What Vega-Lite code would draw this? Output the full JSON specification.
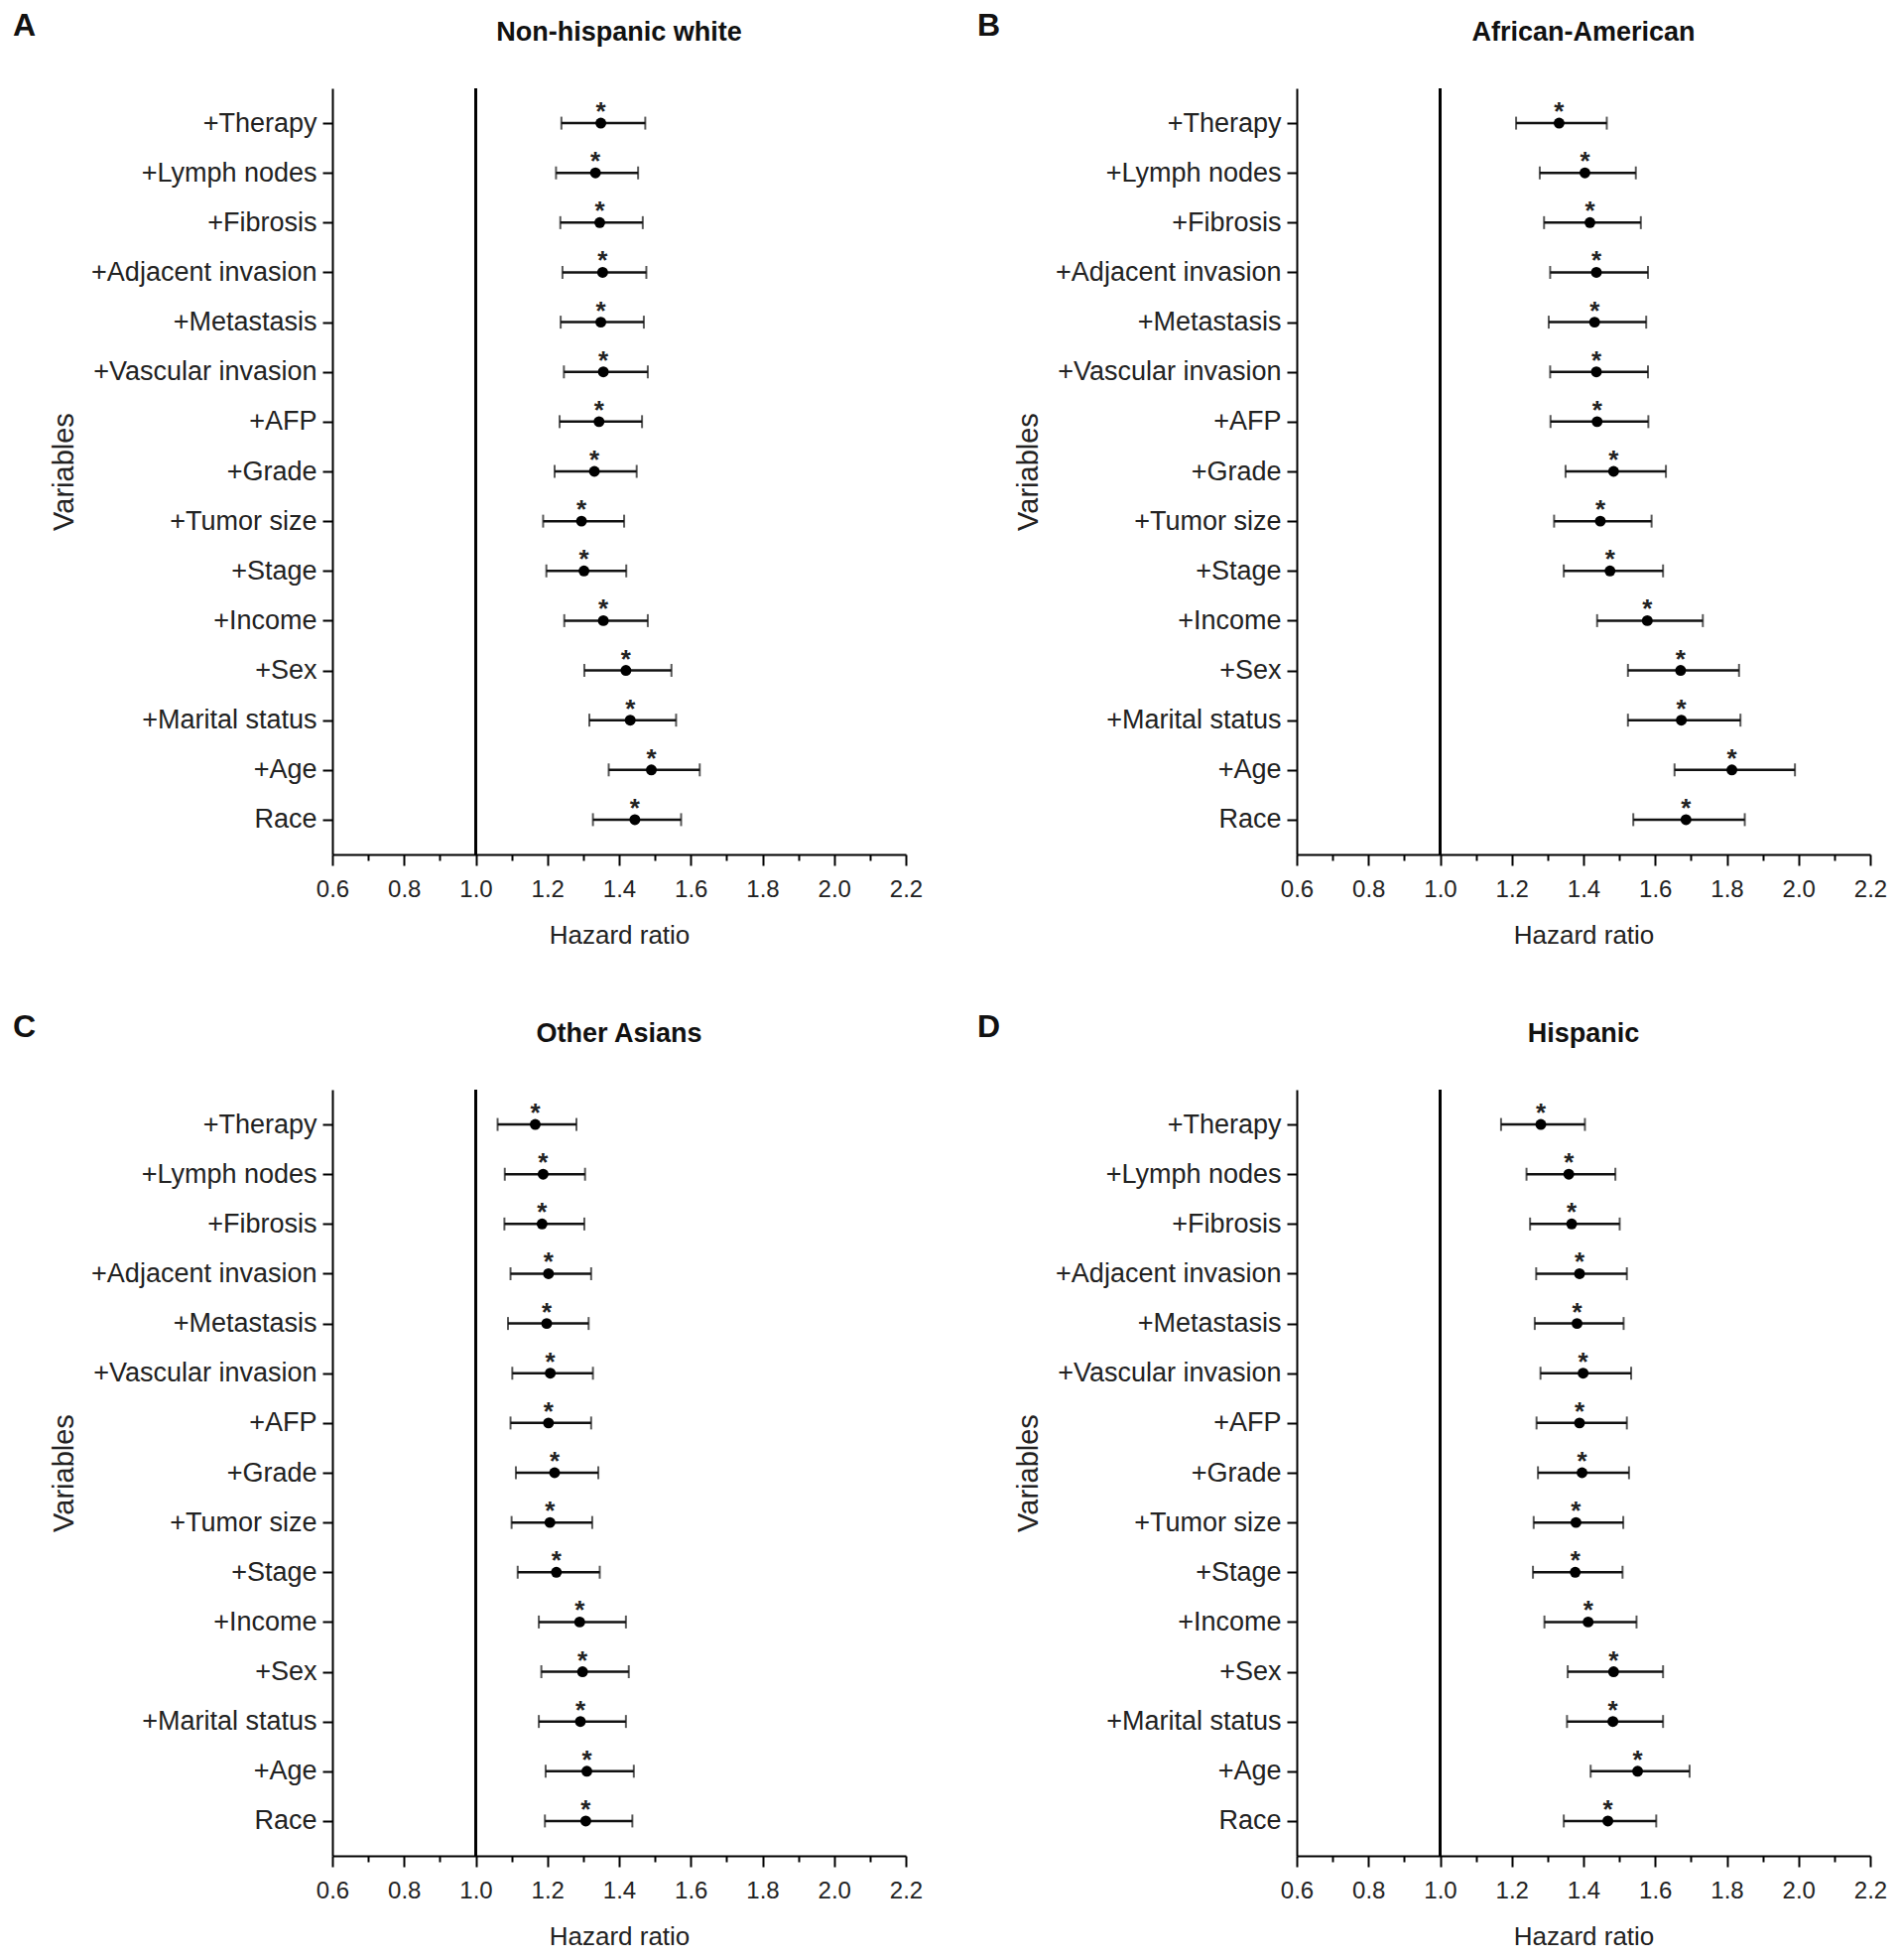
{
  "$schema": "https://vega.github.io/schema/vega-lite/v6.json",
  "background": "white",
  "padding": {"left": 13, "top": 10, "right": 10, "bottom": 5},
  "config": {
    "font": "Liberation Sans",
    "view": {"stroke": null},
    "axis": {
      "grid": false,
      "domainColor": "black",
      "domainWidth": 2,
      "tickColor": "black",
      "tickWidth": 2,
      "tickSize": 10,
      "labelColor": "#222",
      "titleColor": "#222",
      "titleFontWeight": "normal",
      "titleFontSize": 26,
      "labelLimit": 0,
      "labelFlush": false
    },
    "axisX": {
      "values": [0.6,0.7,0.8,0.9,1.0,1.1,1.2,1.3,1.4,1.5,1.6,1.7,1.8,1.9,2.0,2.1,2.2],
      "labelExpr": "round(datum.value*10) % 2 === 0 ? format(datum.value, '.1f') : ''",
      "tickSize": {"condition": {"test": "round(datum.value*10) % 2 === 1", "value": 6}, "value": 11},
      "labelFontSize": 24,
      "labelPadding": 12,
      "titlePadding": 21
    },
    "axisY": {
      "labelFontSize": 27,
      "labelPadding": 6,
      "titlePadding": 56,
      "titleFontSize": 29
    },
    "title": {"color": "#111", "fontWeight": "bold"}
  },
  "datasets": {
    "hr": [
      {"panel": "A", "var": "+Therapy", "hr": 1.349, "lo": 1.239, "hi": 1.473},
      {"panel": "A", "var": "+Lymph nodes", "hr": 1.334, "lo": 1.224, "hi": 1.453},
      {"panel": "A", "var": "+Fibrosis", "hr": 1.346, "lo": 1.236, "hi": 1.466},
      {"panel": "A", "var": "+Adjacent invasion", "hr": 1.354, "lo": 1.242, "hi": 1.476},
      {"panel": "A", "var": "+Metastasis", "hr": 1.349, "lo": 1.237, "hi": 1.469},
      {"panel": "A", "var": "+Vascular invasion", "hr": 1.356, "lo": 1.246, "hi": 1.480},
      {"panel": "A", "var": "+AFP", "hr": 1.344, "lo": 1.234, "hi": 1.464},
      {"panel": "A", "var": "+Grade", "hr": 1.331, "lo": 1.220, "hi": 1.449},
      {"panel": "A", "var": "+Tumor size", "hr": 1.295, "lo": 1.188, "hi": 1.414},
      {"panel": "A", "var": "+Stage", "hr": 1.302, "lo": 1.197, "hi": 1.420},
      {"panel": "A", "var": "+Income", "hr": 1.356, "lo": 1.247, "hi": 1.480},
      {"panel": "A", "var": "+Sex", "hr": 1.419, "lo": 1.303, "hi": 1.546},
      {"panel": "A", "var": "+Marital status", "hr": 1.431, "lo": 1.317, "hi": 1.559},
      {"panel": "A", "var": "+Age", "hr": 1.490, "lo": 1.371, "hi": 1.625},
      {"panel": "A", "var": "Race", "hr": 1.444, "lo": 1.327, "hi": 1.573},

      {"panel": "B", "var": "+Therapy", "hr": 1.332, "lo": 1.212, "hi": 1.465},
      {"panel": "B", "var": "+Lymph nodes", "hr": 1.404, "lo": 1.278, "hi": 1.546},
      {"panel": "B", "var": "+Fibrosis", "hr": 1.418, "lo": 1.290, "hi": 1.560},
      {"panel": "B", "var": "+Adjacent invasion", "hr": 1.436, "lo": 1.307, "hi": 1.580},
      {"panel": "B", "var": "+Metastasis", "hr": 1.431, "lo": 1.303, "hi": 1.575},
      {"panel": "B", "var": "+Vascular invasion", "hr": 1.436, "lo": 1.307, "hi": 1.580},
      {"panel": "B", "var": "+AFP", "hr": 1.438, "lo": 1.308, "hi": 1.581},
      {"panel": "B", "var": "+Grade", "hr": 1.484, "lo": 1.350, "hi": 1.630},
      {"panel": "B", "var": "+Tumor size", "hr": 1.447, "lo": 1.318, "hi": 1.590},
      {"panel": "B", "var": "+Stage", "hr": 1.474, "lo": 1.345, "hi": 1.622},
      {"panel": "B", "var": "+Income", "hr": 1.578, "lo": 1.438, "hi": 1.733},
      {"panel": "B", "var": "+Sex", "hr": 1.671, "lo": 1.524, "hi": 1.834},
      {"panel": "B", "var": "+Marital status", "hr": 1.673, "lo": 1.524, "hi": 1.838},
      {"panel": "B", "var": "+Age", "hr": 1.814, "lo": 1.654, "hi": 1.990},
      {"panel": "B", "var": "Race", "hr": 1.686, "lo": 1.539, "hi": 1.850},

      {"panel": "C", "var": "+Therapy", "hr": 1.166, "lo": 1.061, "hi": 1.281},
      {"panel": "C", "var": "+Lymph nodes", "hr": 1.188, "lo": 1.081, "hi": 1.305},
      {"panel": "C", "var": "+Fibrosis", "hr": 1.185, "lo": 1.080, "hi": 1.303},
      {"panel": "C", "var": "+Adjacent invasion", "hr": 1.203, "lo": 1.097, "hi": 1.322},
      {"panel": "C", "var": "+Metastasis", "hr": 1.198, "lo": 1.090, "hi": 1.315},
      {"panel": "C", "var": "+Vascular invasion", "hr": 1.208, "lo": 1.102, "hi": 1.327},
      {"panel": "C", "var": "+AFP", "hr": 1.203, "lo": 1.097, "hi": 1.322},
      {"panel": "C", "var": "+Grade", "hr": 1.220, "lo": 1.112, "hi": 1.342},
      {"panel": "C", "var": "+Tumor size", "hr": 1.207, "lo": 1.100, "hi": 1.325},
      {"panel": "C", "var": "+Stage", "hr": 1.225, "lo": 1.117, "hi": 1.346},
      {"panel": "C", "var": "+Income", "hr": 1.290, "lo": 1.176, "hi": 1.419},
      {"panel": "C", "var": "+Sex", "hr": 1.298, "lo": 1.183, "hi": 1.427},
      {"panel": "C", "var": "+Marital status", "hr": 1.292, "lo": 1.176, "hi": 1.419},
      {"panel": "C", "var": "+Age", "hr": 1.310, "lo": 1.195, "hi": 1.441},
      {"panel": "C", "var": "Race", "hr": 1.307, "lo": 1.193, "hi": 1.437},

      {"panel": "D", "var": "+Therapy", "hr": 1.281, "lo": 1.170, "hi": 1.404},
      {"panel": "D", "var": "+Lymph nodes", "hr": 1.359, "lo": 1.241, "hi": 1.489},
      {"panel": "D", "var": "+Fibrosis", "hr": 1.367, "lo": 1.251, "hi": 1.501},
      {"panel": "D", "var": "+Adjacent invasion", "hr": 1.389, "lo": 1.268, "hi": 1.521},
      {"panel": "D", "var": "+Metastasis", "hr": 1.382, "lo": 1.264, "hi": 1.512},
      {"panel": "D", "var": "+Vascular invasion", "hr": 1.399, "lo": 1.280, "hi": 1.533},
      {"panel": "D", "var": "+AFP", "hr": 1.389, "lo": 1.269, "hi": 1.521},
      {"panel": "D", "var": "+Grade", "hr": 1.396, "lo": 1.273, "hi": 1.527},
      {"panel": "D", "var": "+Tumor size", "hr": 1.379, "lo": 1.261, "hi": 1.511},
      {"panel": "D", "var": "+Stage", "hr": 1.377, "lo": 1.259, "hi": 1.509},
      {"panel": "D", "var": "+Income", "hr": 1.413, "lo": 1.291, "hi": 1.548},
      {"panel": "D", "var": "+Sex", "hr": 1.484, "lo": 1.356, "hi": 1.622},
      {"panel": "D", "var": "+Marital status", "hr": 1.482, "lo": 1.354, "hi": 1.622},
      {"panel": "D", "var": "+Age", "hr": 1.551, "lo": 1.420, "hi": 1.696},
      {"panel": "D", "var": "Race", "hr": 1.468, "lo": 1.345, "hi": 1.603}
    ]
  },
  "columns": 2,
  "spacing": {"column": 55, "row": 64},
  "concat": [
    {
      "title": {"text": "A", "anchor": "start", "fontSize": 32, "dx": -37, "dy": 28},
      "vconcat": [
        {
          "title": {"text": "Non-hispanic white", "fontSize": 27, "frame": "group", "anchor": "middle", "offset": 41},
          "width": 578, "height": 772,
          "data": {"name": "hr"},
          "transform": [{"filter": "datum.panel === 'A'"}],
          "layer": [
            {"mark": {"type": "rule", "color": "black", "strokeWidth": 1.5},
             "encoding": {"x": {"datum": 1, "type": "quantitative", "scale": {"domain": [0.6, 2.2], "nice": false, "zero": false}, "axis": {"title": "Hazard ratio"}}}},
            {"mark": {"type": "rule", "color": "#111", "strokeWidth": 2.5},
             "encoding": {"x": {"field": "lo", "type": "quantitative"}, "x2": {"field": "hi"},
               "y": {"field": "var", "type": "nominal", "sort": ["+Therapy","+Lymph nodes","+Fibrosis","+Adjacent invasion","+Metastasis","+Vascular invasion","+AFP","+Grade","+Tumor size","+Stage","+Income","+Sex","+Marital status","+Age","Race"], "scale": {"type": "point", "padding": 0.7}, "axis": {"title": "Variables"}}}},
            {"mark": {"type": "tick", "color": "#111", "thickness": 2, "size": 13},
             "encoding": {"x": {"field": "lo", "type": "quantitative"}, "y": {"field": "var", "type": "nominal", "sort": ["+Therapy","+Lymph nodes","+Fibrosis","+Adjacent invasion","+Metastasis","+Vascular invasion","+AFP","+Grade","+Tumor size","+Stage","+Income","+Sex","+Marital status","+Age","Race"]}}},
            {"mark": {"type": "tick", "color": "#111", "thickness": 2, "size": 13},
             "encoding": {"x": {"field": "hi", "type": "quantitative"}, "y": {"field": "var", "type": "nominal", "sort": ["+Therapy","+Lymph nodes","+Fibrosis","+Adjacent invasion","+Metastasis","+Vascular invasion","+AFP","+Grade","+Tumor size","+Stage","+Income","+Sex","+Marital status","+Age","Race"]}}},
            {"mark": {"type": "circle", "color": "black", "opacity": 1, "size": 120},
             "encoding": {"x": {"field": "hr", "type": "quantitative"}, "y": {"field": "var", "type": "nominal", "sort": ["+Therapy","+Lymph nodes","+Fibrosis","+Adjacent invasion","+Metastasis","+Vascular invasion","+AFP","+Grade","+Tumor size","+Stage","+Income","+Sex","+Marital status","+Age","Race"]}}},
            {"mark": {"type": "text", "text": "*", "fontSize": 26, "fontWeight": "bold", "dy": -11, "color": "#222"},
             "encoding": {"x": {"field": "hr", "type": "quantitative"}, "y": {"field": "var", "type": "nominal", "sort": ["+Therapy","+Lymph nodes","+Fibrosis","+Adjacent invasion","+Metastasis","+Vascular invasion","+AFP","+Grade","+Tumor size","+Stage","+Income","+Sex","+Marital status","+Age","Race"]}}}
          ]
        }
      ]
    },
    {
      "title": {"text": "B", "anchor": "start", "fontSize": 32, "dx": -37, "dy": 28},
      "vconcat": [
        {
          "title": {"text": "African-American", "fontSize": 27, "frame": "group", "anchor": "middle", "offset": 41},
          "width": 578, "height": 772,
          "data": {"name": "hr"},
          "transform": [{"filter": "datum.panel === 'B'"}],
          "layer": [
            {"mark": {"type": "rule", "color": "black", "strokeWidth": 1.5},
             "encoding": {"x": {"datum": 1, "type": "quantitative", "scale": {"domain": [0.6, 2.2], "nice": false, "zero": false}, "axis": {"title": "Hazard ratio"}}}},
            {"mark": {"type": "rule", "color": "#111", "strokeWidth": 2.5},
             "encoding": {"x": {"field": "lo", "type": "quantitative"}, "x2": {"field": "hi"},
               "y": {"field": "var", "type": "nominal", "sort": ["+Therapy","+Lymph nodes","+Fibrosis","+Adjacent invasion","+Metastasis","+Vascular invasion","+AFP","+Grade","+Tumor size","+Stage","+Income","+Sex","+Marital status","+Age","Race"], "scale": {"type": "point", "padding": 0.7}, "axis": {"title": "Variables"}}}},
            {"mark": {"type": "tick", "color": "#111", "thickness": 2, "size": 13},
             "encoding": {"x": {"field": "lo", "type": "quantitative"}, "y": {"field": "var", "type": "nominal", "sort": ["+Therapy","+Lymph nodes","+Fibrosis","+Adjacent invasion","+Metastasis","+Vascular invasion","+AFP","+Grade","+Tumor size","+Stage","+Income","+Sex","+Marital status","+Age","Race"]}}},
            {"mark": {"type": "tick", "color": "#111", "thickness": 2, "size": 13},
             "encoding": {"x": {"field": "hi", "type": "quantitative"}, "y": {"field": "var", "type": "nominal", "sort": ["+Therapy","+Lymph nodes","+Fibrosis","+Adjacent invasion","+Metastasis","+Vascular invasion","+AFP","+Grade","+Tumor size","+Stage","+Income","+Sex","+Marital status","+Age","Race"]}}},
            {"mark": {"type": "circle", "color": "black", "opacity": 1, "size": 120},
             "encoding": {"x": {"field": "hr", "type": "quantitative"}, "y": {"field": "var", "type": "nominal", "sort": ["+Therapy","+Lymph nodes","+Fibrosis","+Adjacent invasion","+Metastasis","+Vascular invasion","+AFP","+Grade","+Tumor size","+Stage","+Income","+Sex","+Marital status","+Age","Race"]}}},
            {"mark": {"type": "text", "text": "*", "fontSize": 26, "fontWeight": "bold", "dy": -11, "color": "#222"},
             "encoding": {"x": {"field": "hr", "type": "quantitative"}, "y": {"field": "var", "type": "nominal", "sort": ["+Therapy","+Lymph nodes","+Fibrosis","+Adjacent invasion","+Metastasis","+Vascular invasion","+AFP","+Grade","+Tumor size","+Stage","+Income","+Sex","+Marital status","+Age","Race"]}}}
          ]
        }
      ]
    },
    {
      "title": {"text": "C", "anchor": "start", "fontSize": 32, "dx": -37, "dy": 28},
      "vconcat": [
        {
          "title": {"text": "Other Asians", "fontSize": 27, "frame": "group", "anchor": "middle", "offset": 41},
          "width": 578, "height": 772,
          "data": {"name": "hr"},
          "transform": [{"filter": "datum.panel === 'C'"}],
          "layer": [
            {"mark": {"type": "rule", "color": "black", "strokeWidth": 1.5},
             "encoding": {"x": {"datum": 1, "type": "quantitative", "scale": {"domain": [0.6, 2.2], "nice": false, "zero": false}, "axis": {"title": "Hazard ratio"}}}},
            {"mark": {"type": "rule", "color": "#111", "strokeWidth": 2.5},
             "encoding": {"x": {"field": "lo", "type": "quantitative"}, "x2": {"field": "hi"},
               "y": {"field": "var", "type": "nominal", "sort": ["+Therapy","+Lymph nodes","+Fibrosis","+Adjacent invasion","+Metastasis","+Vascular invasion","+AFP","+Grade","+Tumor size","+Stage","+Income","+Sex","+Marital status","+Age","Race"], "scale": {"type": "point", "padding": 0.7}, "axis": {"title": "Variables"}}}},
            {"mark": {"type": "tick", "color": "#111", "thickness": 2, "size": 13},
             "encoding": {"x": {"field": "lo", "type": "quantitative"}, "y": {"field": "var", "type": "nominal", "sort": ["+Therapy","+Lymph nodes","+Fibrosis","+Adjacent invasion","+Metastasis","+Vascular invasion","+AFP","+Grade","+Tumor size","+Stage","+Income","+Sex","+Marital status","+Age","Race"]}}},
            {"mark": {"type": "tick", "color": "#111", "thickness": 2, "size": 13},
             "encoding": {"x": {"field": "hi", "type": "quantitative"}, "y": {"field": "var", "type": "nominal", "sort": ["+Therapy","+Lymph nodes","+Fibrosis","+Adjacent invasion","+Metastasis","+Vascular invasion","+AFP","+Grade","+Tumor size","+Stage","+Income","+Sex","+Marital status","+Age","Race"]}}},
            {"mark": {"type": "circle", "color": "black", "opacity": 1, "size": 120},
             "encoding": {"x": {"field": "hr", "type": "quantitative"}, "y": {"field": "var", "type": "nominal", "sort": ["+Therapy","+Lymph nodes","+Fibrosis","+Adjacent invasion","+Metastasis","+Vascular invasion","+AFP","+Grade","+Tumor size","+Stage","+Income","+Sex","+Marital status","+Age","Race"]}}},
            {"mark": {"type": "text", "text": "*", "fontSize": 26, "fontWeight": "bold", "dy": -11, "color": "#222"},
             "encoding": {"x": {"field": "hr", "type": "quantitative"}, "y": {"field": "var", "type": "nominal", "sort": ["+Therapy","+Lymph nodes","+Fibrosis","+Adjacent invasion","+Metastasis","+Vascular invasion","+AFP","+Grade","+Tumor size","+Stage","+Income","+Sex","+Marital status","+Age","Race"]}}}
          ]
        }
      ]
    },
    {
      "title": {"text": "D", "anchor": "start", "fontSize": 32, "dx": -37, "dy": 28},
      "vconcat": [
        {
          "title": {"text": "Hispanic", "fontSize": 27, "frame": "group", "anchor": "middle", "offset": 41},
          "width": 578, "height": 772,
          "data": {"name": "hr"},
          "transform": [{"filter": "datum.panel === 'D'"}],
          "layer": [
            {"mark": {"type": "rule", "color": "black", "strokeWidth": 1.5},
             "encoding": {"x": {"datum": 1, "type": "quantitative", "scale": {"domain": [0.6, 2.2], "nice": false, "zero": false}, "axis": {"title": "Hazard ratio"}}}},
            {"mark": {"type": "rule", "color": "#111", "strokeWidth": 2.5},
             "encoding": {"x": {"field": "lo", "type": "quantitative"}, "x2": {"field": "hi"},
               "y": {"field": "var", "type": "nominal", "sort": ["+Therapy","+Lymph nodes","+Fibrosis","+Adjacent invasion","+Metastasis","+Vascular invasion","+AFP","+Grade","+Tumor size","+Stage","+Income","+Sex","+Marital status","+Age","Race"], "scale": {"type": "point", "padding": 0.7}, "axis": {"title": "Variables"}}}},
            {"mark": {"type": "tick", "color": "#111", "thickness": 2, "size": 13},
             "encoding": {"x": {"field": "lo", "type": "quantitative"}, "y": {"field": "var", "type": "nominal", "sort": ["+Therapy","+Lymph nodes","+Fibrosis","+Adjacent invasion","+Metastasis","+Vascular invasion","+AFP","+Grade","+Tumor size","+Stage","+Income","+Sex","+Marital status","+Age","Race"]}}},
            {"mark": {"type": "tick", "color": "#111", "thickness": 2, "size": 13},
             "encoding": {"x": {"field": "hi", "type": "quantitative"}, "y": {"field": "var", "type": "nominal", "sort": ["+Therapy","+Lymph nodes","+Fibrosis","+Adjacent invasion","+Metastasis","+Vascular invasion","+AFP","+Grade","+Tumor size","+Stage","+Income","+Sex","+Marital status","+Age","Race"]}}},
            {"mark": {"type": "circle", "color": "black", "opacity": 1, "size": 120},
             "encoding": {"x": {"field": "hr", "type": "quantitative"}, "y": {"field": "var", "type": "nominal", "sort": ["+Therapy","+Lymph nodes","+Fibrosis","+Adjacent invasion","+Metastasis","+Vascular invasion","+AFP","+Grade","+Tumor size","+Stage","+Income","+Sex","+Marital status","+Age","Race"]}}},
            {"mark": {"type": "text", "text": "*", "fontSize": 26, "fontWeight": "bold", "dy": -11, "color": "#222"},
             "encoding": {"x": {"field": "hr", "type": "quantitative"}, "y": {"field": "var", "type": "nominal", "sort": ["+Therapy","+Lymph nodes","+Fibrosis","+Adjacent invasion","+Metastasis","+Vascular invasion","+AFP","+Grade","+Tumor size","+Stage","+Income","+Sex","+Marital status","+Age","Race"]}}}
          ]
        }
      ]
    }
  ]
}
